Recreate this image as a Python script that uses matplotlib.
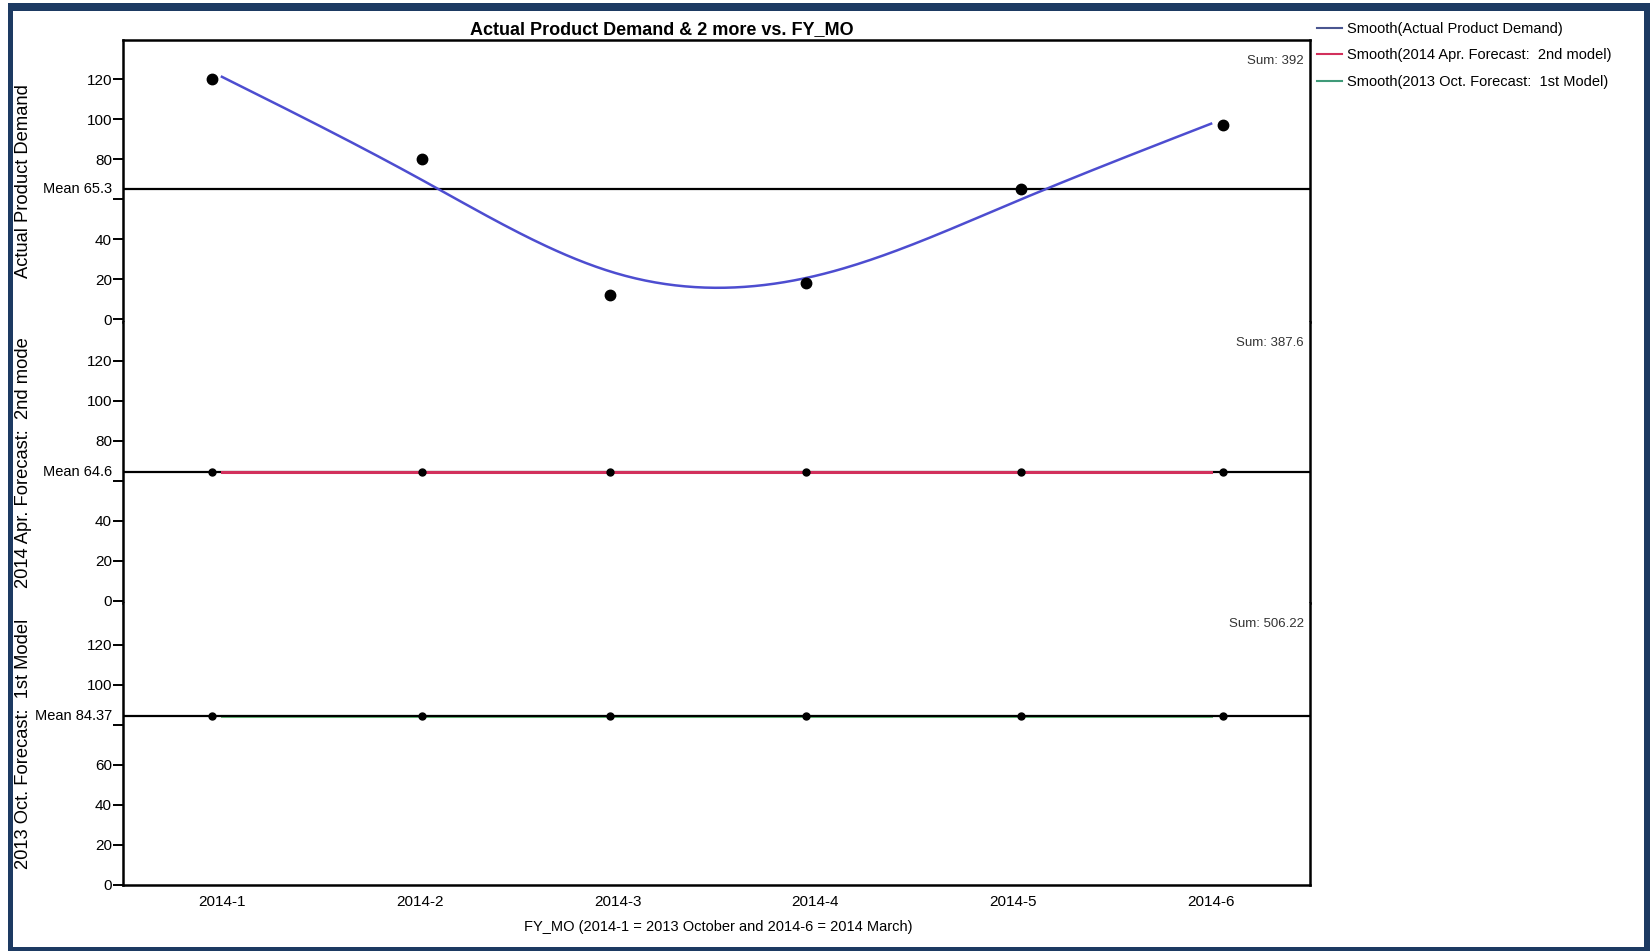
import numpy as np
import matplotlib
matplotlib.use("Agg")
import matplotlib.pyplot as plt
from matplotlib.patches import Rectangle
from matplotlib.lines import Line2D

# data
months = ["2014-1", "2014-2", "2014-3", "2014-4", "2014-5", "2014-6"]
x_jitter = [-0.05, 0.01, -0.04, -0.05, 0.04, 0.06]
actual_demand = [120, 80, 12, 18, 65, 97]
forecast_apr = [64.6, 64.6, 64.6, 64.6, 64.6, 64.6]
forecast_oct = [84.37, 84.37, 84.37, 84.37, 84.37, 84.37]

panel_series = [actual_demand, forecast_apr, forecast_oct]
panel_ylabels = ["Actual Product Demand", "2014 Apr. Forecast:  2nd mode",
                 "2013 Oct. Forecast:  1st Model"]
legend_labels = ["Smooth(Actual Product Demand)",
                 "Smooth(2014 Apr. Forecast:  2nd model)",
                 "Smooth(2013 Oct. Forecast:  1st Model)"]
mean_labels = ["Mean 65.3", "Mean 64.6", "Mean 84.37"]
colors = ["#4d4dd0", "#d2305c", "#6cbf80"]
yticks = [0, 20, 40, 60, 80, 100, 120]

plt.rcParams["font.family"] = ["Liberation Sans", "DejaVu Sans"]


def smoothing_spline(x, y, lam, xs):
    """Cubic smoothing spline (Reinsch form), evaluated at xs."""
    x = np.asarray(x, float)
    y = np.asarray(y, float)
    n = len(x)
    h = np.diff(x)
    Q = np.zeros((n, n - 2))
    R = np.zeros((n - 2, n - 2))
    for j in range(1, n - 1):
        Q[j - 1, j - 1] = 1 / h[j - 1]
        Q[j, j - 1] = -1 / h[j - 1] - 1 / h[j]
        Q[j + 1, j - 1] = 1 / h[j]
        R[j - 1, j - 1] = (h[j - 1] + h[j]) / 3
        if j < n - 2:
            R[j - 1, j] = R[j, j - 1] = h[j] / 6
    K = Q @ np.linalg.solve(R, Q.T)
    g = np.linalg.solve(np.eye(n) + lam * K, y)
    gam = np.zeros(n)
    gam[1:-1] = np.linalg.solve(R, Q.T @ g)
    out = np.empty_like(xs)
    for k, t in enumerate(xs):
        i = min(max(np.searchsorted(x, t) - 1, 0), n - 2)
        a, b = t - x[i], x[i + 1] - t
        out[k] = (a * g[i + 1] + b * g[i]) / h[i] - a * b / 6 * (
            (1 + a / h[i]) * gam[i + 1] + (1 + b / h[i]) * gam[i])
    return out


W, H = 1650, 951
fig = plt.figure(figsize=(W / 100, H / 100), dpi=100)
fig.patch.set_facecolor("white")

# screenshot frame
navy = "#1d3a62"
for (x0, y0, w, h) in [(8, 3, 5, 948), (8, 3, 1642, 8), (1644, 3, 6, 948), (8, 947, 1642, 4)]:
    fig.add_artist(Rectangle((x0 / W, 1 - (y0 + h) / H), w / W, h / H,
                             transform=fig.transFigure, color=navy, lw=0))

left, right = 123 / W, 1310 / W
top, bottom = 1 - 40 / H, 1 - 885 / H
ph = (top - bottom) / 3
xpos = np.arange(1, len(months) + 1)
xs = np.linspace(1, 6, 300)

for i, vals in enumerate(panel_series):
    ax = fig.add_axes([left, top - (i + 1) * ph, right - left, ph])
    ax.set_xlim(0.5, 6.5)
    if i < 2:
        ax.set_ylim(-1.2, 139.6)
    else:
        ax.set_ylim(0, 140.8)

    mean = np.mean(vals)
    ax.axhline(mean, color="black", lw=1.6, zorder=3)

    smooth = smoothing_spline(xpos, vals, 0.12, xs)
    ax.plot(xs, smooth, color=colors[i], lw=1.8 if i == 0 else 2.2,
            zorder=4 if i < 2 else 2)

    ms = 7.5 if i == 0 else 5
    ax.plot(xpos + np.array(x_jitter), vals, "o", color="black", ms=ms, zorder=5)

    labels = ["" if abs(t - mean) < 10 else str(t) for t in yticks]
    ax.set_yticks(yticks)
    ax.set_yticklabels(labels)
    ax.tick_params(axis="y", direction="out", length=7, width=1.4, pad=1,
                   labelsize=11)
    ax.annotate(mean_labels[i], xy=(0, mean), xycoords=("axes fraction", "data"),
                xytext=(-7.5, 0), textcoords="offset points", ha="right",
                va="center", fontsize=10.5)
    ax.text(0.995, 0.925, "Sum: %g" % round(sum(vals), 2), transform=ax.transAxes,
            ha="right", va="center", fontsize=9.5, color="#333333")

    for s in ["left", "right", "top", "bottom"]:
        ax.spines[s].set_linewidth(1.8)
    ax.spines["top"].set_visible(i == 0)
    ax.spines["bottom"].set_visible(i == 2)

    if i < 2:
        ax.set_xticks([])
    else:
        ax.set_xticks(xpos)
        ax.set_xticklabels(months)
        ax.tick_params(axis="x", length=0, pad=7, labelsize=11)

    yc = 1 - (40 + (i + 0.5) * (845 / 3)) / H
    fig.text(24 / W, yc, panel_ylabels[i], rotation=90, ha="center", va="center",
             fontsize=13.2)

fig.text(662 / W, 1 - 30 / H, "Actual Product Demand & 2 more vs. FY_MO",
         ha="center", va="center", fontsize=13, fontweight="bold")
fig.text(718 / W, 1 - 927 / H, "FY_MO (2014-1 = 2013 October and 2014-6 = 2014 March)",
         ha="center", va="center", fontsize=10.5)

handles = [Line2D([], [], color=c, lw=1.5) for c in ["#4a5690", colors[1], "#3f9a78"]]
fig.legend(handles, legend_labels, loc="upper left",
           bbox_to_anchor=(1317 / W, 1 - 22 / H), frameon=False, fontsize=10.5,
           handlelength=1.7, handletextpad=0.35, labelspacing=0.85,
           borderpad=0, borderaxespad=0)

fig.savefig("out.png", dpi=100)
